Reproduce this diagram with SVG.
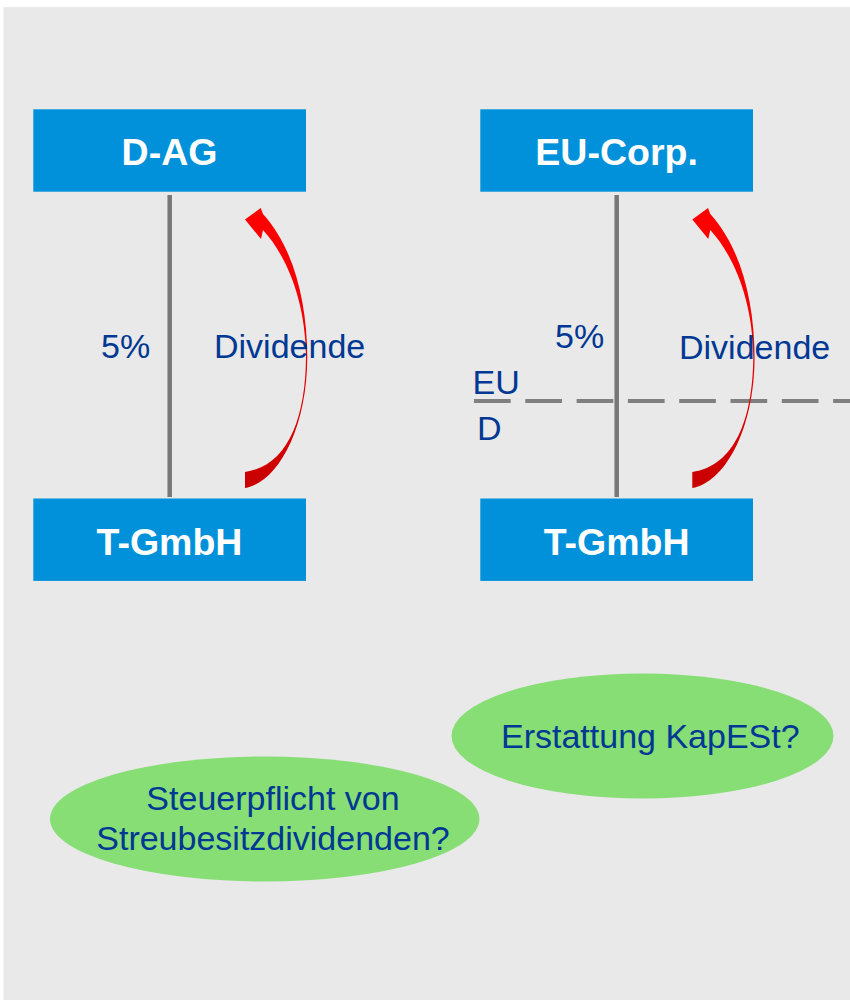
<svg xmlns="http://www.w3.org/2000/svg" width="850" height="1000" viewBox="0 0 850 1000">
<defs>
<linearGradient id="rg" x1="0" y1="1" x2="0" y2="0">
<stop offset="0" stop-color="#C80000"/>
<stop offset="0.5" stop-color="#F00000"/>
<stop offset="1" stop-color="#FF0000"/>
</linearGradient>
<path id="arrow" d="M245,488 C276,483 307,432 307.3,357 C307,300 293,247 263,214 L260.7,208 L245,219.5 L261,239 L263,230 C286,255 305.5,300 306,357 C305.5,420 287,466 245,472 Z"/>
</defs>
<style>
.box{fill:#0091DA}
.bt{font-family:"Liberation Sans",Arial,sans-serif;font-weight:bold;font-size:37.5px;fill:#FFFFFF;text-anchor:middle}
.t{font-family:"Liberation Sans",Arial,sans-serif;font-size:34px;fill:#003893}
.ell{fill:#86DE74}
.own{stroke:#777777;stroke-width:4.5;fill:none}
.dash{stroke:#808080;stroke-width:4;fill:none;stroke-dasharray:36.7 14.6}
</style>
<rect x="3.5" y="7" width="846.5" height="993" fill="#E9E9E9"/>

<g id="connectors">
<line class="own" x1="169.7" y1="195" x2="169.7" y2="497"/>
<line class="own" x1="616.7" y1="195" x2="616.7" y2="497"/>
<line class="dash" x1="474" y1="401" x2="850" y2="401"/>
<use href="#arrow" fill="url(#rg)"/>
<use href="#arrow" fill="url(#rg)" transform="translate(447.3,0)"/>
</g>

<g id="d-ag">
<rect class="box" x="33.3" y="109.3" width="272.7" height="82.4"/>
<text class="bt" x="169.5" y="165">D-AG</text>
</g>
<g id="eu-corp">
<rect class="box" x="480.3" y="109.3" width="272.7" height="82.4"/>
<text class="bt" x="616.6" y="165">EU-Corp.</text>
</g>
<g id="t-gmbh-left">
<rect class="box" x="33.3" y="498.5" width="272.7" height="82.4"/>
<text class="bt" x="169.5" y="554.5">T-GmbH</text>
</g>
<g id="t-gmbh-right">
<rect class="box" x="480.3" y="498.5" width="272.7" height="82.4"/>
<text class="bt" x="616.6" y="554.5">T-GmbH</text>
</g>

<g id="labels">
<text class="t" x="101" y="358">5%</text>
<text class="t" x="214" y="358">Dividende</text>
<text class="t" x="555" y="348.3">5%</text>
<text class="t" x="679" y="359">Dividende</text>
<text class="t" x="472.5" y="394">EU</text>
<text class="t" x="477" y="440">D</text>
</g>

<g id="q-kapest">
<ellipse class="ell" cx="642.5" cy="736" rx="191" ry="62.5"/>
<text class="t" x="501" y="748.3">Erstattung KapESt?</text>
</g>
<g id="q-streubesitz">
<ellipse class="ell" cx="264.7" cy="819" rx="214.7" ry="62.5"/>
<text class="t" x="273" y="810" text-anchor="middle">Steuerpflicht von</text>
<text class="t" x="273" y="850" text-anchor="middle">Streubesitzdividenden?</text>
</g>
</svg>
